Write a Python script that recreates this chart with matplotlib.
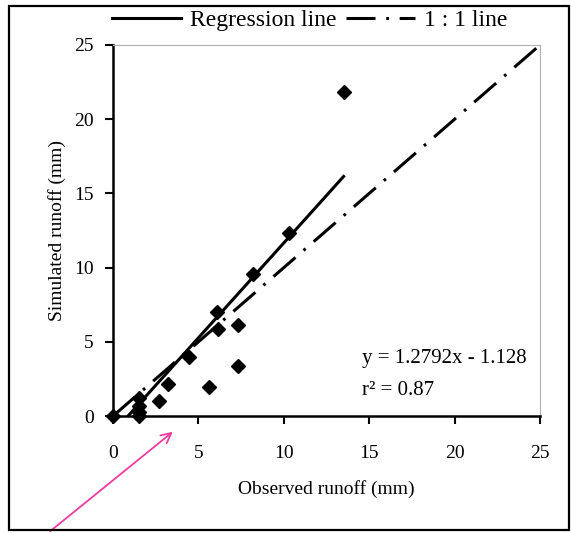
import numpy as np
import matplotlib
matplotlib.use('Agg')
import matplotlib.pyplot as plt
from matplotlib.patches import Rectangle

# DATA
observed = [0.0, 1.5, 1.5, 1.5, 1.5, 2.7, 3.2, 4.45, 5.6, 6.1, 6.15, 7.3, 7.3, 8.2, 10.3, 13.5]
simulated = [0.0, 0.0, 0.3, 0.7, 1.2, 1.0, 2.15, 3.95, 1.95, 7.0, 5.85, 6.1, 3.4, 9.6, 12.3, 21.8]
slope = 1.2792
intercept = -1.128
r2 = 0.87
ticks = [0, 5, 10, 15, 20, 25]

plt.rcParams['font.family'] = ['Liberation Serif', 'DejaVu Serif']

fig = plt.figure(figsize=(5.72, 5.33), dpi=100)
ax = fig.add_axes([0.1976, 0.2195, 0.7465, 0.6961])

# outer frame around the whole chart
fig.patches.append(Rectangle((9 / 572, 3 / 533), 560 / 572, 524 / 533, transform=fig.transFigure,
                             fill=False, edgecolor='black', linewidth=1.6))

ax.plot(observed, simulated, 'D', color='black', markersize=7, zorder=3, clip_on=False)

# regression line over the range of observed values
xr = np.array([min(observed), max(observed)])
reg, = ax.plot(xr, slope * xr + intercept, color='black', linewidth=2.2, label='Regression line')

# 1:1 line
one, = ax.plot([0, 25], [0, 25], color='black', linewidth=2.2, label='1 : 1 line', clip_on=False)
one.set_dashes([9.5, 3.5, 0.9, 3.5])

ax.set_xlim(0, 25)
ax.set_ylim(0, 25)
ax.set_xticks(ticks)
ax.set_yticks(ticks)
ax.tick_params(direction='out', length=6, width=1.5, labelsize=14)
ax.tick_params(axis='x', pad=15)
ax.tick_params(axis='y', pad=8)

for s in ['left', 'bottom']:
    ax.spines[s].set_linewidth(1.8)
for s in ['top', 'right']:
    ax.spines[s].set_color('#b0b0b0')
    ax.spines[s].set_linewidth(0.8)

ax.set_xlabel('Observed runoff (mm)', fontsize=14, labelpad=13)
ax.set_ylabel('Simulated runoff (mm)', fontsize=14, labelpad=6)

ax.text(14.6, 3.9, 'y = 1.2792x - 1.128', fontsize=15, va='center', ha='left')
ax.text(14.6, 1.75, 'r\u00b2 = %.2f' % r2, fontsize=15, va='center', ha='left')

fig.legend(handles=[reg, one], loc='center', bbox_to_anchor=(0.542, 0.962), ncol=2,
           frameon=False, fontsize=17, handlelength=2.9, columnspacing=0.4, handletextpad=0.4)

# pink pointer arrow in the lower left
ax.annotate('', xy=(175 / 572, 1 - 430 / 533), xytext=(48 / 572, 1 - 533 / 533),
            xycoords='figure fraction', textcoords='figure fraction',
            arrowprops=dict(arrowstyle='->', color='#f03ca0', lw=1.3, mutation_scale=18))

fig.savefig('out.png', dpi=100)
